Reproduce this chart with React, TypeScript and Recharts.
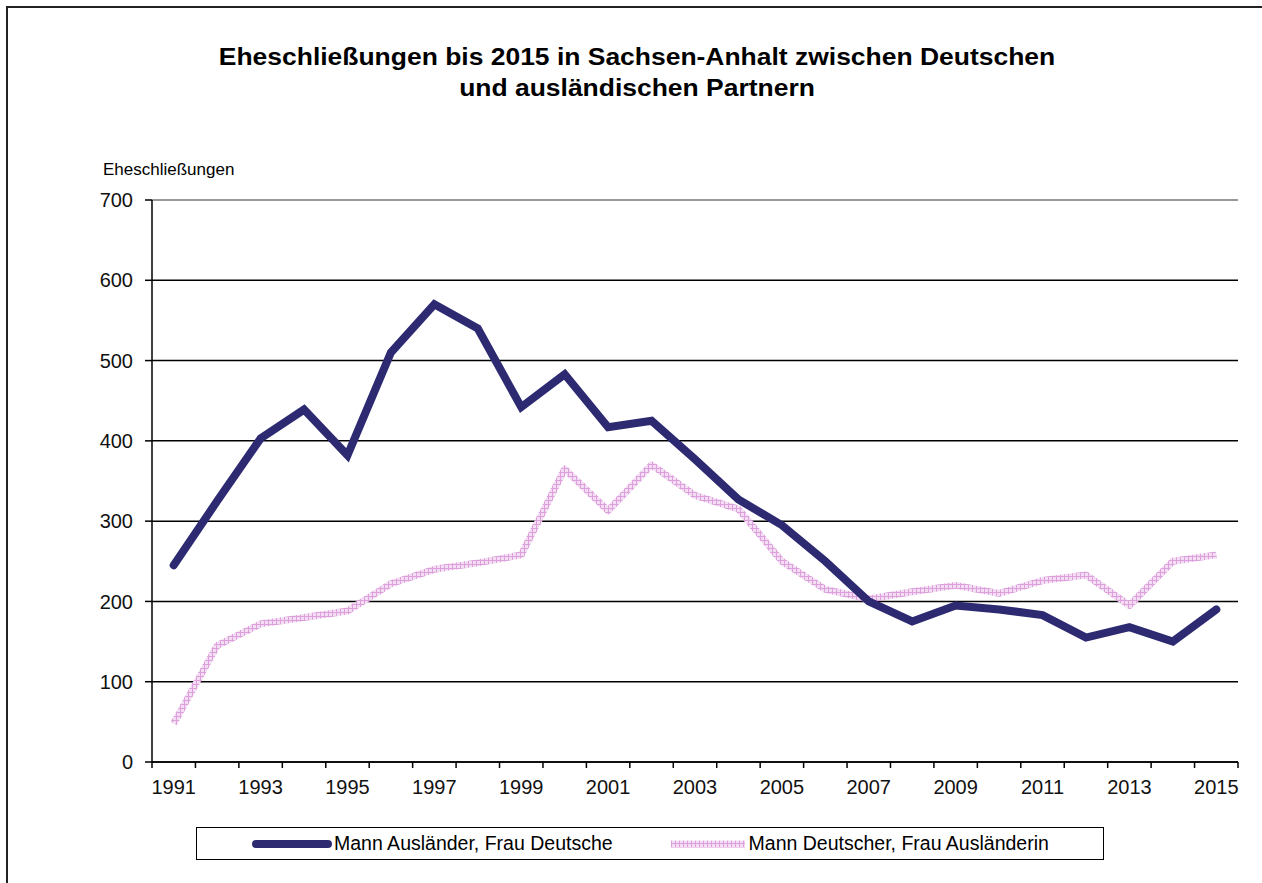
import React from 'react';
import { LineChart, Line, XAxis, YAxis, CartesianGrid, ReferenceLine } from 'recharts';

const years = ['1991','1992','1993','1994','1995','1996','1997','1998','1999','2000','2001','2002','2003','2004','2005','2006','2007','2008','2009','2010','2011','2012','2013','2014','2015'];
const mannAuslaender = [245,325,403,439,382,510,570,540,442,483,417,425,377,327,295,250,200,175,195,190,183,155,168,150,190];
const mannDeutscher = [48,145,172,180,188,222,240,248,258,365,313,370,332,315,250,215,203,212,220,210,226,233,195,250,258];
const yTicks = [0,100,200,300,400,500,600,700];
const seriesNames = ['Mann Ausländer, Frau Deutsche', 'Mann Deutscher, Frau Ausländerin'];
const titleLines = ['Eheschließungen bis 2015 in Sachsen-Anhalt zwischen Deutschen', 'und ausländischen Partnern'];
const yAxisTitle = 'Eheschließungen';

const data = years.map((y, i) => ({ year: y, a: mannAuslaender[i], b: mannDeutscher[i] }));

const NAVY = '#2E2A72';
const PINK = '#DDA0DD';
const FONT = '"Liberation Sans", Arial, sans-serif';

const XTick = (props: any) => {
  const { x, y, payload, index } = props;
  const off = payload.offset || 0;
  const last = index === years.length - 1;
  return (
    <g>
      <line x1={x - off} x2={x - off} y1={y} y2={y + 6} stroke="#000" strokeWidth={1.5} />
      {last && <line x1={x + off} x2={x + off} y1={y} y2={y + 6} stroke="#000" strokeWidth={1.5} />}
      {index % 2 === 0 && (
        <text x={x} y={y + 32} textAnchor="middle" fontSize={20} fontFamily={FONT} fill="#111">
          {payload.value}
        </text>
      )}
    </g>
  );
};

export default function App() {
  return (
    <div style={{ position: 'absolute', left: 0, top: 0, width: 1262, height: 883, background: '#fff', overflow: 'hidden', fontFamily: FONT }}>
      <div style={{ position: 'absolute', left: 6, top: 6, width: 1300, height: 900, borderLeft: '2px solid #222', borderTop: '2px solid #222' }} />
      <div style={{ position: 'absolute', left: 0, width: 1274, top: 42, textAlign: 'center', fontWeight: 'bold', fontSize: 23, lineHeight: '31px', color: '#000' }}>
        {titleLines.map((t, i) => (
          <div key={i} style={{ transform: 'scaleX(1.15)' }}>{t}</div>
        ))}
      </div>
      <div style={{ position: 'absolute', left: 103, top: 160, fontSize: 17, color: '#000' }}>{yAxisTitle}</div>
      <div style={{ position: 'absolute', left: 0, top: 0 }}>
        <LineChart width={1262} height={883} data={data} margin={{ top: 200, right: 24, bottom: 91, left: 0 }}>
          <defs>
            <pattern id="pinkHatch" width="4" height="4" patternUnits="userSpaceOnUse">
              <rect width="4" height="4" fill="#F3DDF3" />
              <line x1="0" y1="0.5" x2="4" y2="0.5" stroke={PINK} strokeWidth="1" />
              <line x1="0.5" y1="0" x2="0.5" y2="4" stroke={PINK} strokeWidth="1" />
            </pattern>
          </defs>
          <CartesianGrid vertical={false} stroke="#000" strokeWidth={1.5} />
          <ReferenceLine y={700} stroke="#999" strokeWidth={2} />
          <XAxis dataKey="year" scale="band" interval={0} height={30} tickLine={false} tickSize={0} tickMargin={0} tick={<XTick />} stroke="#000" strokeWidth={1.5} />
          <YAxis domain={[0, 700]} ticks={yTicks} width={152} tickSize={7} tickMargin={12} stroke="#000" strokeWidth={1.5} tick={{ fontSize: 20, fill: '#111', fontFamily: FONT }} />
          <YAxis yAxisId="r" orientation="right" domain={[0, 700]} width={0} tick={false} tickLine={false} stroke="#999" strokeWidth={2} />
          <Line dataKey="b" stroke="url(#pinkHatch)" strokeWidth={7} dot={false} isAnimationActive={false} strokeLinejoin="round" />
          <Line dataKey="a" stroke={NAVY} strokeWidth={8} dot={false} isAnimationActive={false} strokeLinecap="round" />
        </LineChart>
      </div>
      <div style={{ position: 'absolute', left: 196, top: 827, width: 906, height: 31, border: '1.5px solid #000', display: 'flex', alignItems: 'center', fontSize: 19.5, color: '#000' }}>
        <svg width={80} height={12} style={{ marginLeft: 55 }}>
          <line x1={4} y1={6} x2={76} y2={6} stroke={NAVY} strokeWidth={8} strokeLinecap="round" />
        </svg>
        <span style={{ marginLeft: 2 }}>{seriesNames[0]}</span>
        <svg width={76} height={10} style={{ marginLeft: 58 }}>
          <defs>
            <pattern id="pinkHatchL" width="4" height="4" patternUnits="userSpaceOnUse">
              <rect width="4" height="4" fill="#F3DDF3" />
              <line x1="0" y1="0.5" x2="4" y2="0.5" stroke={PINK} strokeWidth="1" />
              <line x1="0.5" y1="0" x2="0.5" y2="4" stroke={PINK} strokeWidth="1" />
            </pattern>
          </defs>
          <line x1={0} y1={5} x2={74} y2={5} stroke="url(#pinkHatchL)" strokeWidth={7} />
        </svg>
        <span style={{ marginLeft: 2 }}>{seriesNames[1]}</span>
      </div>
    </div>
  );
}
